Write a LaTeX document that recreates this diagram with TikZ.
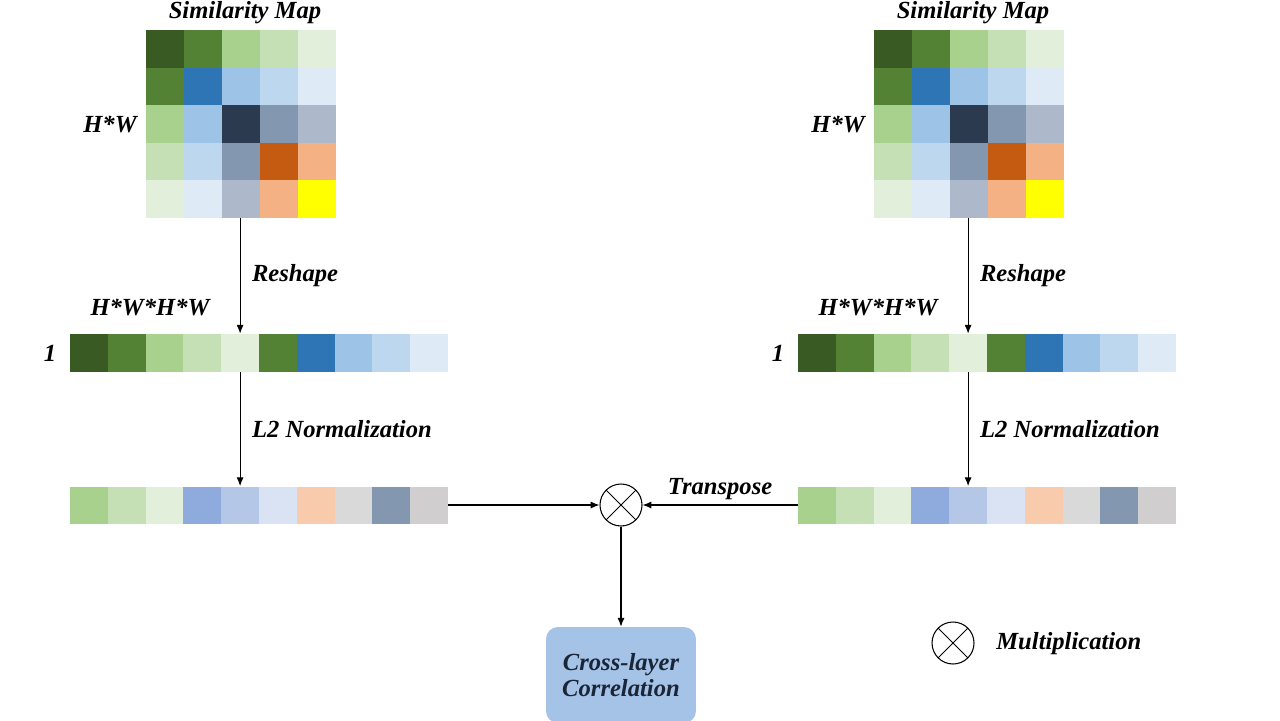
\documentclass[tikz,border=0pt]{standalone}
\usepackage{fontspec}
\setmainfont{Liberation Serif}
\usetikzlibrary{arrows.meta}
\definecolor{GA}{HTML}{3A5A24}
\definecolor{GB}{HTML}{548235}
\definecolor{GC}{HTML}{A9D18E}
\definecolor{GD}{HTML}{C5E0B4}
\definecolor{GE}{HTML}{E2EFDA}
\definecolor{BA}{HTML}{2E75B6}
\definecolor{BB}{HTML}{9DC3E6}
\definecolor{BC}{HTML}{BDD7EE}
\definecolor{BD}{HTML}{DEEBF7}
\definecolor{NA}{HTML}{2B3A4F}
\definecolor{NB}{HTML}{8497B0}
\definecolor{NC}{HTML}{ADB9CA}
\definecolor{OA}{HTML}{C55A11}
\definecolor{OB}{HTML}{F4B183}
\definecolor{YA}{HTML}{FFFF00}
\definecolor{PA}{HTML}{8FAADC}
\definecolor{PB}{HTML}{B4C7E7}
\definecolor{PC}{HTML}{DAE3F3}
\definecolor{SA}{HTML}{F8CBAD}
\definecolor{KA}{HTML}{D9D9D9}
\definecolor{KB}{HTML}{D0CECE}
\definecolor{boxfill}{HTML}{A4C3E6}
\definecolor{boxtext}{HTML}{1A2538}
\begin{document}
\begin{tikzpicture}[x=0.02cm,y=-0.02cm,
  font=\fontsize{14}{16}\selectfont\bfseries\itshape,
  mcell/.style={rectangle, inner sep=0pt, minimum width=0.76cm, minimum height=0.752cm},
  vcell/.style={rectangle, inner sep=0pt, minimum width=0.756cm, minimum height=0.76cm},
  wcell/.style={rectangle, inner sep=0pt, minimum width=0.756cm, minimum height=0.74cm},
  lbl/.style={inner sep=0pt},
  arr/.style={line width=0.6pt, -{Latex[length=5pt,width=4pt]}},
  mult/.style={circle, draw, line width=0.6pt, minimum size=0.84cm, inner sep=0pt,
    path picture={\draw[line width=0.5pt] (path picture bounding box.north west) -- (path picture bounding box.south east)
      (path picture bounding box.north east) -- (path picture bounding box.south west);}},
  corr/.style={rectangle, rounded corners=0.24cm, fill=boxfill, minimum width=3cm, minimum height=1.92cm,
    align=center, text=boxtext, inner sep=0pt}
]
\useasboundingbox (0,0) rectangle (1280,720);
\fill[white] (0,0) rectangle (1280,720);

\foreach \side/\dx in {L/0,R/728} {
  % similarity map
  \foreach \c [count=\i from 0] in {GA,GB,GC,GD,GE, GB,BA,BB,BC,BD, GC,BB,NA,NB,NC, GD,BC,NB,OA,OB, GE,BD,NC,OB,YA} {
    \pgfmathtruncatemacro\r{div(\i,5)}
    \pgfmathtruncatemacro\k{mod(\i,5)}
    \node[mcell, fill=\c] (\side m\r\k) at ({146+\dx+19+38*\k},{30+18.8+37.6*\r}) {};
  }
  % reshaped vector
  \foreach \c [count=\i from 0] in {GA,GB,GC,GD,GE,GB,BA,BB,BC,BD} {
    \node[vcell, fill=\c] (\side v\i) at ({70+\dx+18.9+37.8*\i},353) {};
  }
  % normalized vector
  \foreach \c [count=\i from 0] in {GC,GD,GE,PA,PB,PC,SA,KA,NB,KB} {
    \node[wcell, fill=\c] (\side w\i) at ({70+\dx+18.9+37.8*\i},505) {};
  }
  \node[lbl] (\side title) at ({245+\dx},13) {Similarity Map};
  \node[lbl] (\side hw) at ({110+\dx},124) {H*W};
  \node[lbl] (\side hwhw) at ({150+\dx},307) {H*W*H*W};
  \node[lbl] (\side one) at ({50+\dx},353) {1};
  \draw[arr] (\side v4.north |- \side m42.south) -- (\side v4.north)
    node[midway, right=6.5pt, lbl] (\side rs) {Reshape};
  \draw[arr] (\side v4.south) -- (\side w4.north)
    node[midway, right=6.5pt, lbl] (\side l2) {L2 Normalization};
}

\node[mult] (mul) at (621,505) {};
\draw[arr] (Lw9.east) -- (mul.west);
\draw[arr] (Rw0.west) -- (mul.east) node[midway, above=2.5pt, lbl] (tp) {Transpose};

\node[corr] (clc) at (621,675) {Cross-layer\\[-1pt]Correlation};
\draw[arr] (mul.south) -- (clc.north);

\node[mult] (leg) at (953,643) {};
\node[lbl, anchor=west] (legt) at (996,644) {Multiplication};
\end{tikzpicture}
\end{document}
